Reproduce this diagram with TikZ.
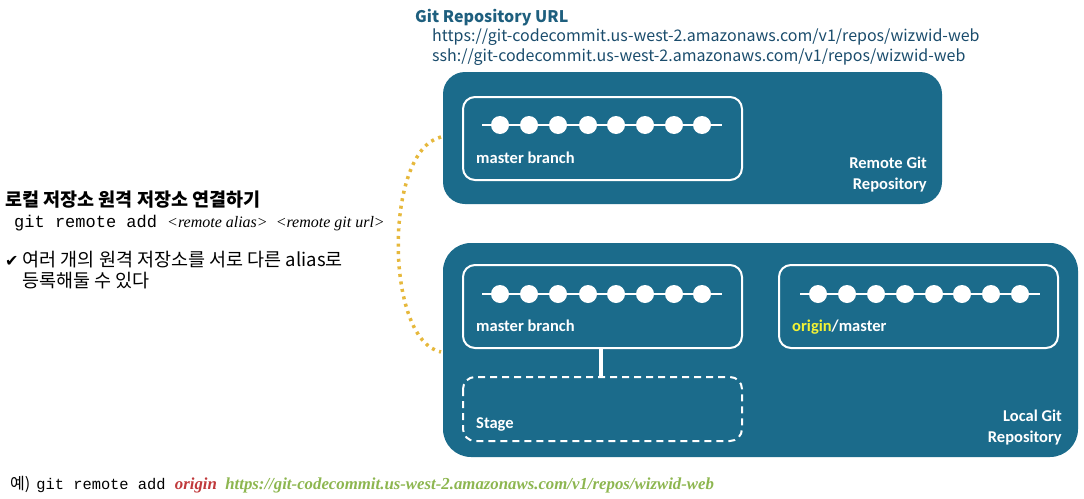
\documentclass[tikz,border=0pt]{standalone}
\usepackage{fontspec}
\setmainfont{Liberation Serif}
\setsansfont{Carlito}
\setmonofont{Liberation Mono}
\newfontfamily\kr{Noto Sans CJK KR}
\newfontfamily\dejavu{DejaVu Sans}
\definecolor{teal}{HTML}{1B6B8B}
\definecolor{urlhead}{HTML}{1E5F7E}
\definecolor{urltext}{HTML}{1A4C6C}
\definecolor{gold}{HTML}{E6B83C}
\definecolor{originred}{HTML}{C0393B}
\definecolor{urlgreen}{HTML}{8DB650}
\definecolor{originyel}{HTML}{F2F235}
\begin{document}
\begin{tikzpicture}[x=1pt,y=-1pt,
  repo/.style={fill=teal,draw=none,rounded corners=22pt},
  branchbox/.style={draw=white,line width=2pt,rounded corners=12pt},
  stagebox/.style={draw=white,line width=2pt,rounded corners=12pt,dash pattern=on 7pt off 5pt},
  boxlabel/.style={text=white,font=\sffamily\bfseries\fontsize{16.5}{20}\selectfont,inner sep=0pt},
  commit/.style={circle,fill=white,minimum size=18pt,inner sep=0pt},
  histline/.style={draw=white,line width=1.8pt},
  arc/.style={draw=gold,line width=3.5pt,dash pattern=on 3pt off 4.6pt},
  plain/.style={inner sep=0pt,anchor=base west}]
\useasboundingbox (0,0) rectangle (1084,498);
% repositories
\path[repo] (443,72) rectangle (942,204);
\path[repo,rounded corners=28pt] (443,243) rectangle (1078,457);
\node[boxlabel,anchor=base east,align=right] (remlab) at (927,189) {Remote Git\\[1pt]Repository};
\node[boxlabel,anchor=base east,align=right] (loclab) at (1062,442) {Local Git\\[1pt]Repository};
% remote master branch
\draw[branchbox] (463,97) rectangle (742,180);
\node[boxlabel,anchor=base west] (rmb) at (476,163) {master branch};
\coordinate (rl1) at (482,125); \coordinate (rl2) at (722,125);
\draw[histline] (rl1) -- (rl2);
\foreach \i/\x in {1/500,2/529,3/558,4/588,5/616,6/645,7/674,8/702}
  \node[commit] (rc\i) at (\x,125) {};
% local master branch
\draw[branchbox] (463,265) rectangle (742,348);
\node[boxlabel,anchor=base west] (lmb) at (476,331) {master branch};
\coordinate (ll1) at (482,294); \coordinate (ll2) at (722,294);
\draw[histline] (ll1) -- (ll2);
\foreach \i/\x in {1/500,2/529,3/558,4/588,5/616,6/645,7/674,8/702}
  \node[commit] (lc\i) at (\x,294) {};
% origin/master
\draw[branchbox] (779,265) rectangle (1058,348);
\node[boxlabel,anchor=base west] (omb) at (792,331) {\textcolor{originyel}{origin}/master};
\coordinate (ol1) at (800,294); \coordinate (ol2) at (1040,294);
\draw[histline] (ol1) -- (ol2);
\foreach \i/\x in {1/818,2/847,3/876,4/905,5/934,6/962,7/991,8/1020}
  \node[commit] (oc\i) at (\x,294) {};
% stage
\draw[stagebox] (463,377) rectangle (742,441);
\node[boxlabel,anchor=base west] (stg) at (476,428) {Stage};
\coordinate (mbbot) at (601,348); \coordinate (sttop) at (601,377);
\draw[white,line width=4pt] (mbbot) -- (sttop);
% dotted arc
\coordinate (arcA) at (441,137); \coordinate (arcB) at (441,352);
\draw[arc] (arcA) .. controls (384,150) and (384,340) .. (arcB);
% URL header
\node[plain,text=urlhead,font=\kr\bfseries\fontsize{16}{19}\selectfont] (urlh) at (415,22) {Git Repository URL};
\node[plain,text=urltext,font=\kr\fontsize{16}{19}\selectfont] (url1) at (432,41) {https://git-codecommit.us-west-2.amazonaws.com/v1/repos/wizwid-web};
\node[plain,text=urltext,font=\kr\fontsize{16}{19}\selectfont] (url2) at (432,61) {ssh://git-codecommit.us-west-2.amazonaws.com/v1/repos/wizwid-web};
% left text
\node[plain,font=\kr\bfseries\fontsize{18.5}{22}\selectfont] (title) at (5,206) {로컬 저장소 원격 저장소 연결하기};
\node[plain] (cmd) at (14,227) {\fontsize{17}{20}\selectfont\ttfamily git remote add \rmfamily\itshape\fontsize{16}{20}\selectfont <remote alias>\ \ <remote git url>};
\node[plain,font=\kr\fontsize{18.5}{22}\selectfont] (note1) at (5,266) {{\dejavu\fontsize{16}{19}\selectfont ✔} 여러 개의 원격 저장소를 서로 다른 alias로};
\node[plain,font=\kr\fontsize{18.5}{22}\selectfont] (note2) at (22,287) {등록해둘 수 있다};
% example
\node[plain] (ex) at (10,489) {{\kr\fontsize{16}{18}\selectfont 예)}\hspace{6pt}\fontsize{15.4}{18}\selectfont\ttfamily git remote add \rmfamily\itshape\bfseries\fontsize{16.8}{18}\selectfont\textcolor{originred}{origin}\ \ \textcolor{urlgreen}{https://git-codecommit.us-west-2.amazonaws.com/v1/repos/wizwid-web}};
\end{tikzpicture}
\end{document}
